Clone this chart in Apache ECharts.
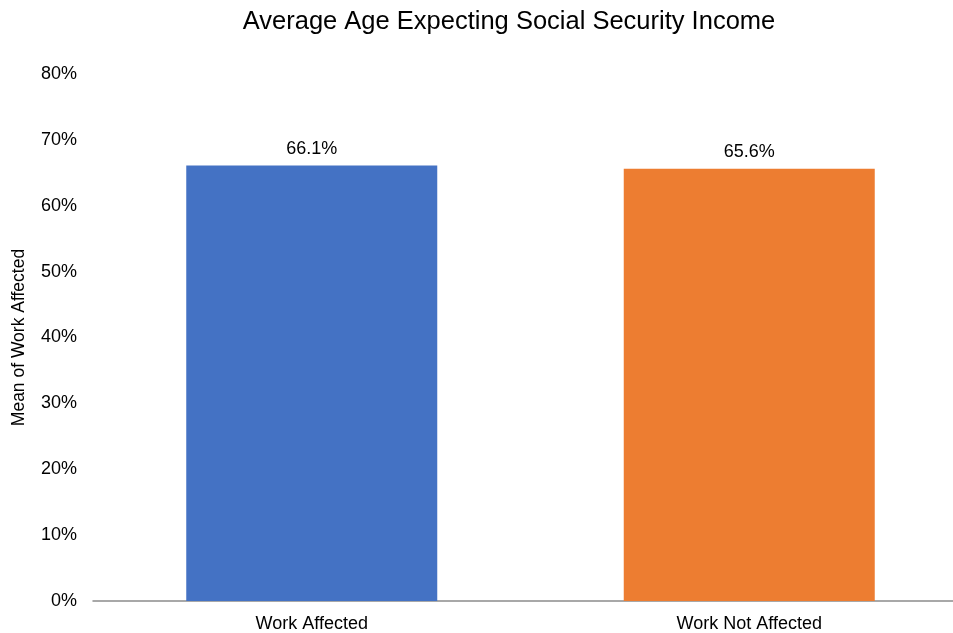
<!DOCTYPE html>
<html>
<head>
<meta charset="utf-8">
<script src="https://cdn.jsdelivr.net/npm/echarts@6/dist/echarts.min.js"></script>
<style>
  html, body { margin: 0; padding: 0; background: #fff; }
  #chart { width: 953px; height: 633px; }
</style>
</head>
<body>
<div id="chart"></div>
<script>
const categories = ['Work Affected', 'Work Not Affected'];
const values = [66.1, 65.6];
const barColors = ['#4472C4', '#ED7D31'];
const yTicks = [0, 10, 20, 30, 40, 50, 60, 70, 80];

const chart = echarts.init(document.getElementById('chart'), null, { renderer: 'canvas' });
const font = 'Liberation Sans, Arial, sans-serif';

chart.setOption({
  animation: false,
  title: {
    text: 'Average Age Expecting Social Security Income',
    left: 504,
    textAlign: 'center',
    top: 4,
    textStyle: { fontFamily: font, fontSize: 25.5, fontWeight: 'normal', color: '#000' }
  },
  grid: {
    left: 93, top: 74, width: 875, height: 527,
    outerBoundsMode: 'none', containLabel: false
  },
  xAxis: {
    type: 'category',
    data: categories,
    axisLine: { lineStyle: { color: '#8c8c8c', width: 1.5 } },
    axisTick: { show: false },
    axisLabel: { fontFamily: font, fontSize: 18, color: '#000', margin: 14 }
  },
  yAxis: {
    type: 'value',
    min: yTicks[0],
    max: yTicks[yTicks.length - 1],
    interval: 10,
    name: 'Mean of Work Affected',
    nameLocation: 'middle',
    nameGap: 65,
    nameTextStyle: { fontFamily: font, fontSize: 17.5, color: '#000' },
    axisLine: { show: false },
    axisTick: { show: false },
    splitLine: { show: false },
    axisLabel: {
      fontFamily: font, fontSize: 18, color: '#000', margin: 16,
      formatter: v => v + '%'
    }
  },
  series: [{
    type: 'bar',
    barWidth: 251,
    data: values.map((v, i) => ({ value: v, itemStyle: { color: barColors[i] } })),
    label: {
      show: true,
      position: 'top',
      distance: 8,
      fontFamily: font,
      fontSize: 18,
      color: '#000',
      formatter: p => p.value.toFixed(1) + '%'
    }
  }]
});
</script>
</body>
</html>
